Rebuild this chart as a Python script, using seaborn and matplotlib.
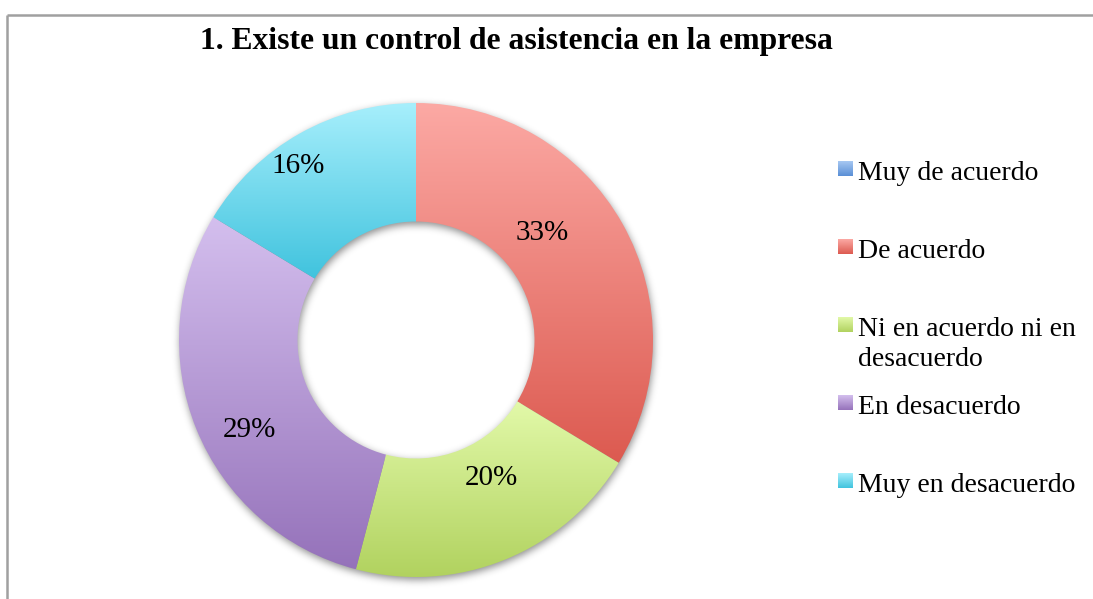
import textwrap
import numpy as np
import matplotlib
matplotlib.use("Agg")
import matplotlib.pyplot as plt
import seaborn as sns

# Survey data
titulo = "1. Existe un control de asistencia en la empresa"
categorias = [
    "Muy de acuerdo",
    "De acuerdo",
    "Ni en acuerdo ni en desacuerdo",
    "En desacuerdo",
    "Muy en desacuerdo",
]
porcentajes = [0, 33, 20, 29, 16]

# Gradient colours for each category (top -> bottom)
colores_sup = ["#A7C8F2", "#FCA9A4", "#E2F9A9", "#D4BFEE", "#A7EFFC"]
colores_inf = ["#5A8FD6", "#DC5A50", "#B1D25F", "#9572BA", "#40C3DE"]

# Nudges (in points) applied to each percentage label from its slice centre
desplazamientos = [(0, 0), (-21, 14), (6, 19), (-1, -17), (-22, 14)]

sns.set_theme(style="white")
plt.rcParams["font.family"] = ["Liberation Serif", "DejaVu Serif"]

W, H = 1093, 599
fig = plt.figure(figsize=(W / 100, H / 100), dpi=100)
fig.patch.set_facecolor("white")

# Overlay in pixel coordinates for frame, title and legend
ov = fig.add_axes([0, 0, 1, 1])
ov.set_facecolor("none")
ov.axis("off")

cmaps = [sns.blend_palette([a, b], n_colors=256, as_cmap=True)
         for a, b in zip(colores_sup, colores_inf)]
grad = np.linspace(0, 1, 256).reshape(-1, 1)

# Doughnut axes
R = 237.0
cx, cy = 416.0, 340.0
L = 1.05
s = 2 * L * R
ax = fig.add_axes([(cx - s / 2) / W, (H - cy - s / 2) / H, s / W, s / H])
ax.set_facecolor("none")

wedges, _ = ax.pie(
    porcentajes,
    startangle=90,
    counterclock=False,
    radius=1,
    wedgeprops=dict(width=0.5, linewidth=0, edgecolor="none"),
)

# Soft drop shadow under the ring
n = 700
xs = np.linspace(-L, L, n)
X, Y = np.meshgrid(xs, xs)
Rr = np.hypot(X - 0.004, Y + 0.012)
mask = ((Rr <= 1.0) & (Rr >= 0.5)).astype(float)
sigma = 5.5
k = np.arange(-int(3 * sigma), int(3 * sigma) + 1)
kern = np.exp(-0.5 * (k / sigma) ** 2)
kern /= kern.sum()
blur = np.apply_along_axis(lambda m: np.convolve(m, kern, mode="same"), 0, mask)
blur = np.apply_along_axis(lambda m: np.convolve(m, kern, mode="same"), 1, blur)
rgba = np.zeros((n, n, 4))
rgba[..., 3] = blur * 0.45
ax.imshow(rgba, extent=[-L, L, -L, L], origin="lower", zorder=0.5,
          interpolation="bilinear", aspect="auto")

for w, v, cm, off in zip(wedges, porcentajes, cmaps, desplazamientos):
    if v <= 0:
        w.set_visible(False)
        continue
    w.set_facecolor("none")
    ext = w.get_path().get_extents()
    im = ax.imshow(grad, cmap=cm, extent=[ext.x0, ext.x1, ext.y0, ext.y1],
                   origin="upper", aspect="auto", interpolation="bilinear",
                   zorder=2)
    im.set_clip_path(w)
    ang = np.deg2rad((w.theta1 + w.theta2) / 2)
    ax.annotate(f"{v}%", xy=(0.75 * np.cos(ang), 0.75 * np.sin(ang)),
                xytext=off, textcoords="offset points",
                ha="center", va="center", fontsize=21, color="black", zorder=3)

ax.set_xlim(-L, L)
ax.set_ylim(-L, L)
ax.axis("off")

# Frame lines
frame_col = "#a0a0a0"
ov.plot([7, W], [15, 15], color=frame_col, lw=1.8, solid_capstyle="butt")
ov.plot([7, 7], [15, H], color=frame_col, lw=1.8, solid_capstyle="butt")

# Title
ov.text(516, 49, titulo, ha="center", va="baseline", fontsize=22.8,
        fontweight="bold", color="black")

# Legend
for i, (cat, cm) in enumerate(zip(categorias, cmaps)):
    ytop = 161 + 78 * i
    ov.imshow(grad, cmap=cm, extent=[838, 853, ytop + 15, ytop],
              origin="upper", aspect="auto", interpolation="bilinear")
    for j, linea in enumerate(textwrap.wrap(cat, 20)):
        ov.text(858, ytop + 19 + 30 * j, linea, ha="left", va="baseline",
                fontsize=20, color="black")

ov.set_xlim(0, W)
ov.set_ylim(H, 0)

fig.savefig("out.png", dpi=100, facecolor="white")
